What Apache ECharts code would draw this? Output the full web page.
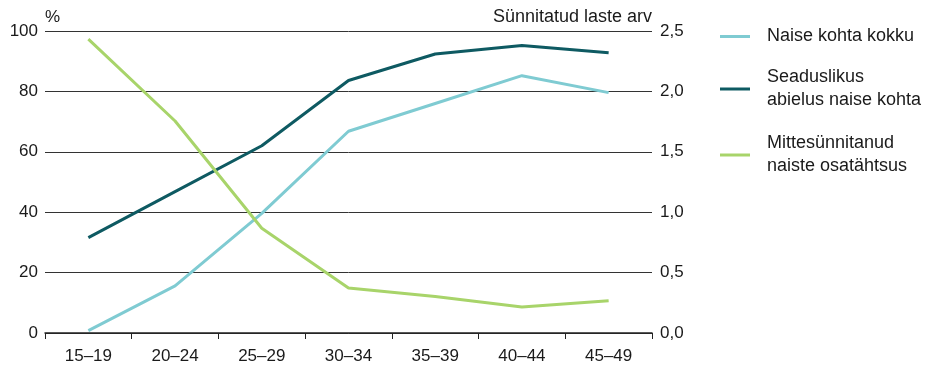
<!DOCTYPE html>
<html><head><meta charset="utf-8">
<script src="https://cdn.jsdelivr.net/npm/echarts@6/dist/echarts.min.js"></script>
<style>html,body{margin:0;padding:0;background:#fff}#c{width:929px;height:369px}</style>
</head><body><div id="c"></div>
<script>
const categories = ['15–19','20–24','25–29','30–34','35–39','40–44','45–49'];
const naiseKohtaKokku = [0.02, 0.39, 0.99, 1.67, 1.90, 2.13, 1.99];
const seaduslikAbielus = [0.79, 1.17, 1.55, 2.09, 2.31, 2.38, 2.32];
const mittesunnitanud = [97.3, 70.2, 34.7, 14.9, 12.1, 8.6, 10.7];
const leftTicks = [0, 20, 40, 60, 80, 100];
const rightTicks = [0, 0.5, 1, 1.5, 2, 2.5];
const names = ['Naise kohta kokku', 'Seaduslikus\nabielus naise kohta', 'Mittesünnitanud\nnaiste osatähtsus'];
const colors = ['#7fcbd2', '#0e5a62', '#a8d46a'];
const font = 'Liberation Sans, Arial, sans-serif';

const chart = echarts.init(document.getElementById('c'), null, {renderer: 'canvas'});
function legend(i, top, padTop) {
  return {
    data: [names[i]], orient: 'vertical', left: 720, top: top, padding: 0,
    icon: 'rect', itemWidth: 30, itemHeight: 3, itemGap: 0,
    textStyle: {fontFamily: font, fontSize: 18, color: '#1a1a1a', lineHeight: 23, padding: [padTop,0,0,12]},
    selectedMode: false
  };
}
chart.setOption({
  animation: false,
  legend: [legend(0, 25, 0), legend(1, 62, 8), legend(2, 130, 4)],
  grid: {left: 45, right: 277, top: 31, bottom: 36},
  xAxis: {
    type: 'category', data: categories, boundaryGap: true,
    axisLine: {lineStyle: {color: '#222', width: 1.5}},
    axisTick: {show: true, length: 6, lineStyle: {color: '#222'}},
    axisLabel: {fontFamily: font, fontSize: 17, color: '#1a1a1a', margin: 15}
  },
  yAxis: [
    {
      type: 'value', min: 0, max: 100, interval: 20, position: 'left',
      name: '%', nameLocation: 'end', nameGap: 5,
      nameTextStyle: {fontFamily: font, fontSize: 17, color: '#1a1a1a', align: 'left', padding: [0,0,0,0]},
      axisLine: {show: false}, axisTick: {show: false},
      splitLine: {lineStyle: {color: '#333', width: 1}},
      axisLabel: {fontFamily: font, fontSize: 17, color: '#1a1a1a', margin: 7,
        formatter: v => leftTicks.includes(v) ? String(v) : ''}
    },
    {
      type: 'value', min: 0, max: 2.5, interval: 0.5, position: 'right',
      name: 'Sünnitatud laste arv', nameLocation: 'end', nameGap: 5,
      nameTextStyle: {fontFamily: font, fontSize: 18, color: '#1a1a1a', align: 'right', padding: [0,0,0,0]},
      axisLine: {show: false}, axisTick: {show: false},
      splitLine: {show: false},
      axisLabel: {fontFamily: font, fontSize: 17, color: '#1a1a1a', margin: 8,
        formatter: v => rightTicks.some(t => Math.abs(t - v) < 1e-9) ? v.toFixed(1).replace('.', ',') : ''}
    }
  ],
  series: [
    {name: names[0], type: 'line', yAxisIndex: 1, data: naiseKohtaKokku, showSymbol: false, symbol: 'none',
      lineStyle: {color: colors[0], width: 3}, itemStyle: {color: colors[0]}},
    {name: names[1], type: 'line', yAxisIndex: 1, data: seaduslikAbielus, showSymbol: false, symbol: 'none',
      lineStyle: {color: colors[1], width: 3}, itemStyle: {color: colors[1]}},
    {name: names[2], type: 'line', yAxisIndex: 0, data: mittesunnitanud, showSymbol: false, symbol: 'none',
      lineStyle: {color: colors[2], width: 3}, itemStyle: {color: colors[2]}}
  ]
});
</script></body></html>
